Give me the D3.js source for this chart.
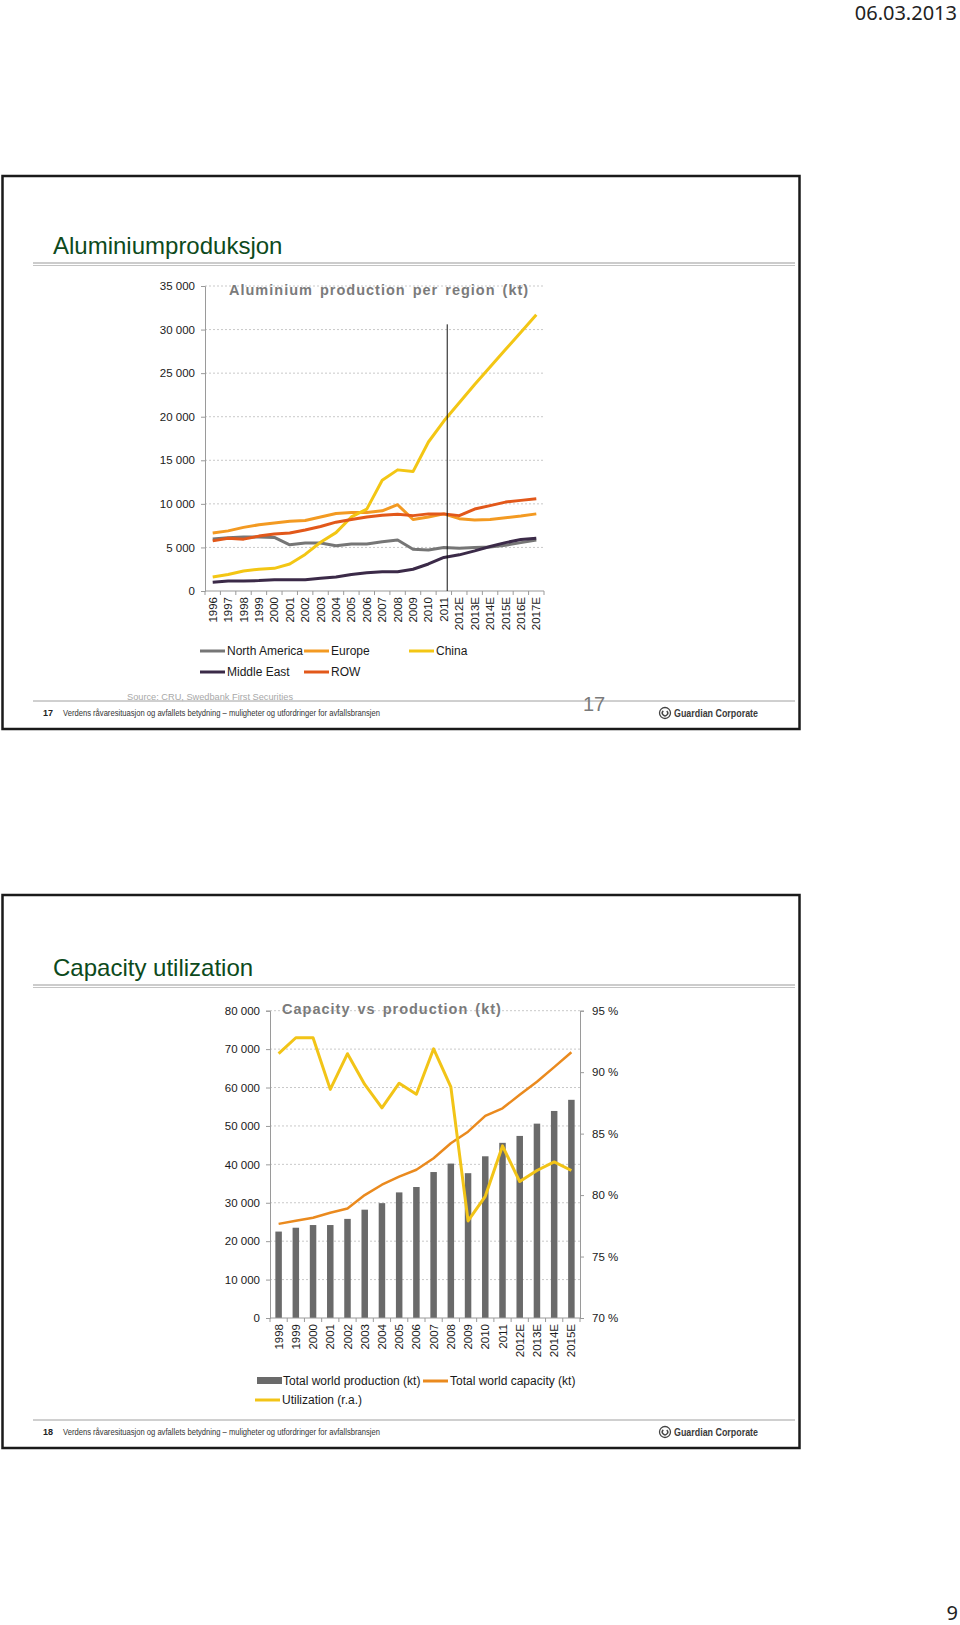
<!DOCTYPE html>
<html>
<head>
<meta charset="utf-8">
<script src="https://cdn.jsdelivr.net/npm/d3@7/dist/d3.min.js"></script>
<style>
  body { margin: 0; background: #fff; }
  svg { display: block; font-family: "Liberation Sans", Arial, sans-serif; }
</style>
</head>
<body>
<svg id="page" width="960" height="1625"></svg>
<script>
// ---- Chart 1: aluminium production per region (kt)
var years1 = ["1996","1997","1998","1999","2000","2001","2002","2003","2004","2005","2006",
              "2007","2008","2009","2010","2011","2012E","2013E","2014E","2015E","2016E","2017E"];
var northAmerica = [5960, 6100, 6200, 6200, 6150, 5300, 5500, 5500, 5200, 5400, 5400,
                    5650, 5850, 4800, 4700, 5000, 4900, 5000, 5050, 5250, 5550, 5850];
var europe       = [6650, 6900, 7300, 7600, 7800, 8000, 8100, 8500, 8900, 9000, 9000,
                    9200, 9900, 8200, 8500, 8850, 8300, 8150, 8200, 8400, 8600, 8850];
var china        = [1600, 1900, 2300, 2500, 2600, 3100, 4200, 5600, 6700, 8500, 9400,
                    12700, 13900, 13700, 17100, 19500, 21600, 23700, 25700, 27700, 29700, 31700];
var middleEast   = [1000, 1150, 1150, 1200, 1300, 1300, 1300, 1450, 1600, 1900, 2100,
                    2200, 2200, 2500, 3100, 3850, 4150, 4600, 5100, 5550, 5900, 6050];
var restOfWorld  = [5750, 6050, 5950, 6300, 6550, 6650, 7000, 7400, 7900, 8200, 8500,
                    8700, 8800, 8650, 8850, 8850, 8650, 9400, 9800, 10200, 10400, 10580];
var yTicks1 = [0, 5000, 10000, 15000, 20000, 25000, 30000, 35000];
var forecastMarkTop = 30600;   // top of the vertical "actual / estimate" divider

// ---- Chart 2: capacity vs production (kt) and utilization (%)
var years2 = ["1998","1999","2000","2001","2002","2003","2004","2005","2006","2007","2008",
              "2009","2010","2011","2012E","2013E","2014E","2015E"];
var production  = [22500, 23500, 24200, 24200, 25800, 28200, 29900, 32700, 34100, 38000, 40200,
                   37700, 42100, 45600, 47400, 50600, 53900, 56800];
var capacity    = [24500, 25300, 26100, 27400, 28500, 32000, 34700, 36800, 38600, 41600, 45500,
                   48500, 52600, 54600, 58100, 61500, 65300, 69200];
var utilization = [91.5, 92.8, 92.8, 88.6, 91.5, 89.0, 87.1, 89.1, 88.2, 91.9, 88.8,
                   77.9, 79.9, 84.0, 81.1, 82.0, 82.7, 82.0];
var yTicks2 = [0, 10000, 20000, 30000, 40000, 50000, 60000, 70000, 80000];
var pctTicks = [70, 75, 80, 85, 90, 95];

var svg = d3.select("#page");
var nb = d3.formatLocale({decimal: ",", thousands: " ", grouping: [3], currency: ["", ""]});
var fmt = nb.format(",");

//Page header / page number
svg.append("text").attr("x", 957).attr("y", 20).attr("text-anchor", "end")
    .style("font-family", "'Noto Sans', sans-serif").style("font-size", "20px").attr("fill", "#222")
    .text("06.03.2013");
svg.append("text").attr("x", 958).attr("y", 1620).attr("text-anchor", "end")
    .style("font-family", "'Noto Sans', sans-serif").style("font-size", "20px").attr("fill", "#222")
    .text("9");

//Slide frame, title, footer
function slide(top, height, title, num, titleY) {
    var g = svg.append("g");
    g.append("rect").attr("x", 2.5).attr("y", top).attr("width", 797).attr("height", height)
        .attr("fill", "none").attr("stroke", "#1a1a1a").attr("stroke-width", 2.5);
    g.append("text").attr("x", 53).attr("y", top + titleY).style("font-size", "24px")
        .attr("fill", "#0d4a1c").text(title);
    g.append("line").attr("x1", 33).attr("x2", 795).attr("y1", top + titleY + 9).attr("y2", top + titleY + 9)
        .attr("stroke", "#9a9a9a").attr("stroke-width", 1.2);
    g.append("line").attr("x1", 33).attr("x2", 795).attr("y1", top + titleY + 11.5).attr("y2", top + titleY + 11.5)
        .attr("stroke", "#c4c4c4").attr("stroke-width", 1);
    var fy = top + height - 28;
    g.append("line").attr("x1", 33).attr("x2", 795).attr("y1", fy).attr("y2", fy)
        .attr("stroke", "#a0a0a0").attr("stroke-width", 1);
    g.append("text").attr("x", 43).attr("y", fy + 15).style("font-size", "9px")
        .style("font-weight", "bold").attr("fill", "#222").text(num);
    g.append("text").attr("x", 63).attr("y", fy + 15).style("font-size", "9.5px").attr("fill", "#333")
        .attr("textLength", 317).attr("lengthAdjust", "spacingAndGlyphs")
        .text("Verdens råvaresituasjon og avfallets betydning – muligheter og utfordringer for avfallsbransjen");
    //logo
    var lg = g.append("g").attr("transform", "translate(665," + (fy + 12) + ")");
    lg.append("circle").attr("r", 5.5).attr("fill", "none").attr("stroke", "#444").attr("stroke-width", 1.3);
    lg.append("path").attr("d", d3.arc()({innerRadius: 2, outerRadius: 3.4, startAngle: 0.7, endAngle: 5.6}))
        .attr("fill", "#444");
    lg.append("text").attr("x", 9).attr("y", 3.8).style("font-size", "10.5px").style("font-weight", "bold")
        .attr("fill", "#3a3a3a").attr("textLength", 84).attr("lengthAdjust", "spacingAndGlyphs")
        .text("Guardian Corporate");
    return fy;
}

var fy1 = slide(176, 553, "Aluminiumproduksjon", "17", 78);
svg.append("text").attr("x", 127).attr("y", fy1 - 1).style("font-size", "9.5px").attr("fill", "#a8a8a8")
    .attr("textLength", 166).attr("lengthAdjust", "spacingAndGlyphs")
    .text("Source: CRU, Swedbank First Securities");
svg.append("text").attr("x", 583).attr("y", fy1 + 10).style("font-size", "20px").attr("fill", "#7a7a7a")
    .text("17");
slide(895, 553, "Capacity utilization", "18", 81);

//Shared bits
function bandTicks(g, x, y0) {
    var bw = x.step(), n = x.domain().length, x0 = x.range()[0];
    g.append("line").attr("x1", x0).attr("x2", x.range()[1]).attr("y1", y0).attr("y2", y0)
        .attr("stroke", "#9a9a9a");
    d3.range(n + 1).forEach(function(i) {
        g.append("line").attr("x1", x0 + i * bw).attr("x2", x0 + i * bw)
            .attr("y1", y0).attr("y2", y0 + 4).attr("stroke", "#9a9a9a");
    });
    x.domain().forEach(function(d) {
        g.append("text")
            .attr("transform", "translate(" + (x(d) + bw / 2) + "," + (y0 + 6) + ") rotate(-90)")
            .attr("text-anchor", "end").attr("dy", "0.35em")
            .style("font-size", "11.5px").attr("fill", "#1a1a1a").text(d);
    });
}

function grid(g, y, ticks, x1, x2) {
    g.selectAll(".grid").data(ticks.filter(function(t) { return t > 0; })).enter()
        .append("line").attr("x1", x1).attr("x2", x2)
        .attr("y1", function(d) { return y(d); }).attr("y2", function(d) { return y(d); })
        .attr("stroke", "#c9c9c9").attr("stroke-dasharray", "2,2");
}

function styleAxis(a) {
    a.select(".domain").attr("stroke", "#9a9a9a");
    a.selectAll(".tick line").attr("stroke", "#9a9a9a");
    a.selectAll(".tick text").style("font-size", "11.5px").attr("fill", "#1a1a1a")
        .style("font-family", "'Liberation Sans', Arial, sans-serif");
}

function legendLine(g, x, y, color, label) {
    g.append("line").attr("x1", x).attr("x2", x + 25).attr("y1", y).attr("y2", y)
        .attr("stroke", color).attr("stroke-width", 3);
    g.append("text").attr("x", x + 27).attr("y", y + 4).style("font-size", "12px")
        .attr("fill", "#1a1a1a").text(label);
}

// ---------------- Chart 1
(function() {
    var g = svg.append("g");
    var x = d3.scaleBand().domain(years1).range([205, 544]);
    var y = d3.scaleLinear().domain([0, 35000]).range([591, 286]);

    grid(g, y, yTicks1, 205, 544);
    var ay = g.append("g").attr("transform", "translate(205,0)")
        .call(d3.axisLeft(y).tickValues(yTicks1).tickSize(4).tickPadding(6).tickFormat(fmt));
    styleAxis(ay);
    bandTicks(g, x, 591);

    g.append("text").attr("x", 229).attr("y", 295).style("font-size", "14.5px").style("font-weight", "bold")
        .style("letter-spacing", "1px").style("word-spacing", "2px").attr("fill", "#7b7b7b")
        .text("Aluminium production per region (kt)");

    var series = [
        {name: "North America", values: northAmerica, color: "#767676"},
        {name: "Europe", values: europe, color: "#f39a22"},
        {name: "China", values: china, color: "#f3c614"},
        {name: "Middle East", values: middleEast, color: "#3b2a48"},
        {name: "ROW", values: restOfWorld, color: "#e2581a"}
    ];
    var line = d3.line()
        .x(function(d, i) { return x(years1[i]) + x.bandwidth() / 2; })
        .y(function(d) { return y(d); });
    series.forEach(function(s) {
        g.append("path").attr("d", line(s.values)).attr("fill", "none")
            .attr("stroke", s.color).attr("stroke-width", 3).attr("stroke-linejoin", "round");
    });

    //vertical divider after last actual year
    var xm = x("2011") + x.bandwidth() * 0.72;
    g.append("line").attr("x1", xm).attr("x2", xm).attr("y1", y(forecastMarkTop)).attr("y2", y(0))
        .attr("stroke", "#111").attr("stroke-width", 1);

    legendLine(g, 200, 651, series[0].color, series[0].name);
    legendLine(g, 304, 651, series[1].color, series[1].name);
    legendLine(g, 409, 651, series[2].color, series[2].name);
    legendLine(g, 200, 672, series[3].color, series[3].name);
    legendLine(g, 304, 672, series[4].color, series[4].name);
})();

// ---------------- Chart 2
(function() {
    var g = svg.append("g");
    var x = d3.scaleBand().domain(years2).range([270, 580]);
    var y = d3.scaleLinear().domain([0, 80000]).range([1318, 1010.7]);
    var yr = d3.scaleLinear().domain([70, 95]).range([1318, 1010.7]);

    grid(g, y, yTicks2, 270, 580);
    var ay = g.append("g").attr("transform", "translate(270,0)")
        .call(d3.axisLeft(y).tickValues(yTicks2).tickSize(4).tickPadding(6).tickFormat(fmt));
    styleAxis(ay);
    var ar = g.append("g").attr("transform", "translate(580,0)")
        .call(d3.axisRight(yr).tickValues(pctTicks).tickSize(4).tickPadding(8)
            .tickFormat(function(d) { return d + " %"; }));
    styleAxis(ar);

    var bw = 6.5;
    g.selectAll(".bar").data(production).enter().append("rect")
        .attr("x", function(d, i) { return x(years2[i]) + (x.bandwidth() - bw) / 2; })
        .attr("y", function(d) { return y(d); })
        .attr("width", bw)
        .attr("height", function(d) { return y(0) - y(d); })
        .attr("fill", "#6a6a6a");

    bandTicks(g, x, 1318);

    g.append("text").attr("x", 282).attr("y", 1014).style("font-size", "14.5px").style("font-weight", "bold")
        .style("letter-spacing", "1px").style("word-spacing", "2px").attr("fill", "#7b7b7b")
        .text("Capacity vs production (kt)");

    var cx = function(d, i) { return x(years2[i]) + x.bandwidth() / 2; };
    g.append("path").attr("d", d3.line().x(cx).y(function(d) { return y(d); })(capacity))
        .attr("fill", "none").attr("stroke", "#ea8a1e").attr("stroke-width", 2.5).attr("stroke-linejoin", "round");
    g.append("path").attr("d", d3.line().x(cx).y(function(d) { return yr(d); })(utilization))
        .attr("fill", "none").attr("stroke", "#f2c417").attr("stroke-width", 3).attr("stroke-linejoin", "round");

    //legend
    g.append("rect").attr("x", 257).attr("y", 1377).attr("width", 25).attr("height", 7).attr("fill", "#6a6a6a");
    g.append("text").attr("x", 283).attr("y", 1385).style("font-size", "12px").attr("fill", "#1a1a1a")
        .text("Total world production (kt)");
    legendLine(g, 423, 1381, "#ea8a1e", "Total world capacity (kt)");
    legendLine(g, 255, 1400, "#f2c417", "Utilization (r.a.)");
})();
</script>
</body>
</html>
